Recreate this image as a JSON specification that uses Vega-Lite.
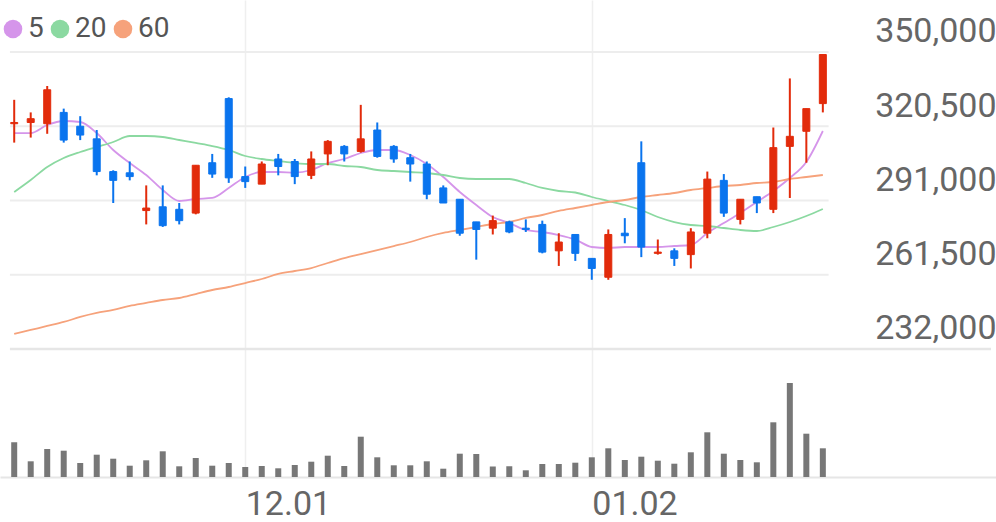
{
"$schema": "https://vega.github.io/schema/vega-lite/v6.json",
"width": 996, "height": 477,
"autosize": {"type": "none"},
"padding": {"left": 0, "top": 0, "right": 0, "bottom": 45},
"background": "white",
"config": {"view": {"stroke": null}, "font": "Roboto"},
"data": {"values": [
{"i":0,"d":"2022-11-11","o":321500,"h":331000,"l":314000,"c":322000,"v":69400,"5":317800,"20":294380,"60":237960,"dir":"up"},
{"i":1,"d":"2022-11-14","o":322000,"h":326000,"l":316000,"c":323500,"v":31400,"5":317800,"20":299140,"60":239550,"dir":"up"},
{"i":2,"d":"2022-11-15","o":321500,"h":336500,"l":317500,"c":335000,"v":56000,"5":321000,"20":304310,"60":241140,"dir":"up"},
{"i":3,"d":"2022-11-16","o":326000,"h":327500,"l":314000,"c":315000,"v":52600,"5":322590,"20":307890,"60":242730,"dir":"down"},
{"i":4,"d":"2022-11-17","o":320500,"h":324500,"l":315000,"c":317000,"v":28000,"5":322190,"20":310270,"60":244720,"dir":"down"},
{"i":5,"d":"2022-11-18","o":315500,"h":319000,"l":301000,"c":302500,"v":44600,"5":317800,"20":312250,"60":246310,"dir":"down"},
{"i":6,"d":"2022-11-21","o":302500,"h":303000,"l":290000,"c":299000,"v":36600,"5":311060,"20":314240,"60":247500,"dir":"down"},
{"i":7,"d":"2022-11-22","o":302000,"h":306500,"l":299000,"c":300500,"v":22600,"5":305900,"20":316620,"60":249090,"dir":"down"},
{"i":8,"d":"2022-11-23","o":287000,"h":297000,"l":281500,"c":288000,"v":33400,"5":301130,"20":316620,"60":250280,"dir":"up"},
{"i":9,"d":"2022-11-24","o":288500,"h":297000,"l":280500,"c":281000,"v":51400,"5":295170,"20":316230,"60":251470,"dir":"down"},
{"i":10,"d":"2022-11-25","o":287500,"h":290000,"l":281500,"c":283000,"v":21400,"5":290800,"20":315040,"60":252260,"dir":"down"},
{"i":11,"d":"2022-11-28","o":286000,"h":305000,"l":285500,"c":305000,"v":38000,"5":291600,"20":313850,"60":253850,"dir":"up"},
{"i":12,"d":"2022-11-29","o":306000,"h":309500,"l":300000,"c":301500,"v":22600,"5":292000,"20":312650,"60":255440,"dir":"down"},
{"i":13,"d":"2022-11-30","o":331500,"h":332000,"l":298000,"c":300000,"v":28000,"5":295970,"20":311060,"60":256630,"dir":"down"},
{"i":14,"d":"2022-12-01","o":300500,"h":304500,"l":296000,"c":298500,"v":20000,"5":300340,"20":308680,"60":258220,"dir":"down"},
{"i":15,"d":"2022-12-02","o":297500,"h":306500,"l":297500,"c":305500,"v":22000,"5":302320,"20":307490,"60":259810,"dir":"up"},
{"i":16,"d":"2022-12-05","o":307500,"h":309500,"l":301000,"c":304500,"v":17400,"5":302320,"20":306690,"60":261800,"dir":"down"},
{"i":17,"d":"2022-12-06","o":306500,"h":307500,"l":297500,"c":300500,"v":24000,"5":302100,"20":305900,"60":262990,"dir":"down"},
{"i":18,"d":"2022-12-07","o":301000,"h":310500,"l":299500,"c":307500,"v":30600,"5":303120,"20":305500,"60":264180,"dir":"up"},
{"i":19,"d":"2022-12-08","o":309500,"h":315000,"l":305000,"c":314500,"v":42600,"5":305900,"20":305500,"60":266170,"dir":"up"},
{"i":20,"d":"2022-12-09","o":312500,"h":313000,"l":306500,"c":309500,"v":22000,"5":307490,"20":304710,"60":268150,"dir":"down"},
{"i":21,"d":"2022-12-12","o":310500,"h":329000,"l":310000,"c":315500,"v":80600,"5":309870,"20":304310,"60":269740,"dir":"up"},
{"i":22,"d":"2022-12-13","o":319000,"h":322000,"l":308000,"c":308500,"v":39400,"5":311060,"20":303120,"60":271330,"dir":"down"},
{"i":23,"d":"2022-12-14","o":312500,"h":313000,"l":306000,"c":307500,"v":23400,"5":311060,"20":302720,"60":272920,"dir":"down"},
{"i":24,"d":"2022-12-15","o":308000,"h":309500,"l":298500,"c":305500,"v":23400,"5":309080,"20":302320,"60":274510,"dir":"down"},
{"i":25,"d":"2022-12-16","o":305500,"h":306500,"l":291500,"c":293500,"v":31400,"5":305500,"20":301920,"60":276500,"dir":"down"},
{"i":26,"d":"2022-12-19","o":296000,"h":297000,"l":290000,"c":290000,"v":16600,"5":300340,"20":301130,"60":278090,"dir":"down"},
{"i":27,"d":"2022-12-20","o":291500,"h":291500,"l":277000,"c":278000,"v":46600,"5":294380,"20":299940,"60":279280,"dir":"down"},
{"i":28,"d":"2022-12-21","o":282500,"h":282500,"l":267500,"c":279500,"v":46000,"5":289210,"20":299540,"60":280470,"dir":"down"},
{"i":29,"d":"2022-12-22","o":280000,"h":285000,"l":277500,"c":283000,"v":21000,"5":284440,"20":299540,"60":281660,"dir":"up"},
{"i":30,"d":"2022-12-23","o":282500,"h":283000,"l":278000,"c":278500,"v":21400,"5":282060,"20":299540,"60":282460,"dir":"down"},
{"i":31,"d":"2022-12-26","o":280000,"h":283500,"l":278500,"c":279500,"v":13400,"5":279280,"20":297950,"60":284050,"dir":"down"},
{"i":32,"d":"2022-12-27","o":281500,"h":283000,"l":270000,"c":270500,"v":26000,"5":278480,"20":295970,"60":285240,"dir":"down"},
{"i":33,"d":"2022-12-28","o":271000,"h":278000,"l":265000,"c":274500,"v":26000,"5":277290,"20":294780,"60":286830,"dir":"up"},
{"i":34,"d":"2022-12-29","o":277500,"h":277500,"l":267000,"c":270000,"v":28600,"5":275500,"20":294180,"60":288020,"dir":"down"},
{"i":35,"d":"2023-01-02","o":268000,"h":268000,"l":259500,"c":264000,"v":39400,"5":272520,"20":292390,"60":289210,"dir":"down"},
{"i":36,"d":"2023-01-03","o":260500,"h":279500,"l":259500,"c":277500,"v":57400,"5":272130,"20":290800,"60":290400,"dir":"up"},
{"i":37,"d":"2023-01-04","o":278000,"h":284000,"l":274000,"c":277000,"v":34000,"5":272520,"20":289210,"60":291200,"dir":"down"},
{"i":38,"d":"2023-01-05","o":306000,"h":314500,"l":268500,"c":272500,"v":40600,"5":272520,"20":287200,"60":292390,"dir":"down"},
{"i":39,"d":"2023-01-06","o":270000,"h":275500,"l":269500,"c":270500,"v":32600,"5":272520,"20":284440,"60":293180,"dir":"up"},
{"i":40,"d":"2023-01-09","o":271000,"h":272000,"l":265000,"c":268000,"v":26600,"5":272920,"20":282450,"60":293980,"dir":"down"},
{"i":41,"d":"2023-01-10","o":269500,"h":280000,"l":264000,"c":278500,"v":49400,"5":273320,"20":281260,"60":295170,"dir":"up"},
{"i":42,"d":"2023-01-11","o":278000,"h":302500,"l":276000,"c":299500,"v":89400,"5":278090,"20":280870,"60":295960,"dir":"up"},
{"i":43,"d":"2023-01-12","o":299000,"h":301500,"l":284500,"c":286000,"v":46600,"5":282060,"20":280070,"60":296760,"dir":"down"},
{"i":44,"d":"2023-01-13","o":283500,"h":291500,"l":281500,"c":291500,"v":34000,"5":286030,"20":279280,"60":297160,"dir":"up"},
{"i":45,"d":"2023-01-16","o":292500,"h":292500,"l":286000,"c":290000,"v":29400,"5":290400,"20":278880,"60":297950,"dir":"down"},
{"i":46,"d":"2023-01-17","o":287500,"h":320000,"l":286000,"c":312000,"v":109400,"5":294780,"20":280470,"60":298350,"dir":"up"},
{"i":47,"d":"2023-01-18","o":312500,"h":339500,"l":292000,"c":316500,"v":188000,"5":299940,"20":282450,"60":299540,"dir":"up"},
{"i":48,"d":"2023-01-19","o":318500,"h":327500,"l":306000,"c":327500,"v":86600,"5":306300,"20":284840,"60":300330,"dir":"up"},
{"i":49,"d":"2023-01-20","o":329500,"h":349000,"l":326000,"c":349000,"v":57400,"5":318610,"20":287620,"60":301130,"dir":"up"}
]},
"layer": [
  {"layer": [
    {"data": {"values": [{"level": 350000}, {"level": 320500}, {"level": 291000}, {"level": 261500}]},
     "mark": {"type": "rule", "color": "#ededed", "strokeWidth": 2},
     "encoding": {
       "x": {"datum": -0.26, "type": "quantitative", "title": null},
       "x2": {"datum": 49.35},
       "y": {"field": "level", "type": "quantitative", "title": null,
         "scale": {"domain": [181143, 370660], "nice": false, "zero": false},
         "axis": {"orient": "right", "values": [232000, 261500, 291000, 320500, 350000], "format": ",d",
           "labelAlign": "right", "labelBaseline": "alphabetic", "labelOffset": -10, "labelPadding": 0,
           "ticks": false, "domain": false, "grid": false, "labelFontSize": 34, "labelColor": "#666666",
           "labelFont": "Roboto", "title": null, "labelFlush": false, "labelOverlap": false}}
     }},
    {"data": {"values": [{"level": 232000}]},
     "mark": {"type": "rule", "color": "#e6e6e6", "strokeWidth": 2.5},
     "encoding": {
       "x": {"datum": -0.26, "type": "quantitative", "title": null},
       "x2": {"datum": 59.19},
       "y": {"field": "level", "type": "quantitative", "title": null}
     }},
    {"transform": [{"fold": ["5", "20", "60"], "as": ["ma", "price"]}],
     "mark": {"type": "line", "strokeWidth": 1.8, "interpolate": "monotone"},
     "encoding": {
       "x": {"field": "i", "type": "quantitative", "title": null},
       "y": {"field": "price", "type": "quantitative", "title": null},
       "color": {"field": "ma", "type": "nominal",
         "scale": {"domain": ["5", "20", "60"], "range": ["#d595ea", "#8bd9a1", "#f6a27b"]},
         "legend": {"orient": "none", "legendX": -1, "legendY": 15, "direction": "horizontal", "title": null,
           "symbolType": "circle", "symbolSize": 256, "symbolStrokeWidth": 0, "labelFontSize": 28,
           "labelColor": "#555555", "labelFont": "Roboto", "labelOffset": 1, "columnPadding": 2, "padding": 0,
           "symbolOpacity": 1,
           "encode": {"symbols": {"update": {"fill": {"scale": "color", "field": "value"}, "stroke": {"value": "transparent"}, "opacity": {"value": 1}, "size": {"value": 345}}}}}}
     }},
    {"mark": {"type": "rule", "strokeWidth": 2},
     "encoding": {
       "x": {"field": "i", "type": "quantitative", "title": null},
       "y": {"field": "l", "type": "quantitative", "title": null},
       "y2": {"field": "h"},
       "stroke": {"field": "dir", "type": "nominal", "scale": {"domain": ["up", "down"], "range": ["#e22b0b", "#0a74ee"]}, "legend": null}
     }},
    {"mark": {"type": "bar", "width": 7, "strokeWidth": 1},
     "encoding": {
       "x": {"field": "i", "type": "quantitative", "title": null},
       "y": {"field": "o", "type": "quantitative", "title": null},
       "y2": {"field": "c"},
       "fill": {"field": "dir", "type": "nominal", "scale": {"domain": ["up", "down"], "range": ["#e22b0b", "#0a74ee"]}, "legend": null},
       "stroke": {"field": "dir", "type": "nominal", "legend": null}
     }}
  ]},
  {"mark": {"type": "bar", "width": 6, "color": "#777777"},
   "encoding": {
     "x": {"field": "i", "type": "quantitative", "title": null,
       "scale": {"domain": [-0.558, 59.19], "nice": false, "zero": false},
       "axis": {"values": [14, 35], "labelExpr": "datum.value == 14 ? '12.01' : '01.02'",
         "labelAlign": "left", "labelBaseline": "alphabetic", "labelPadding": 37,
         "labelFontSize": 34, "labelColor": "#666666", "labelFont": "Roboto",
         "ticks": false, "domain": true, "domainColor": "#e6e6e6", "domainWidth": 2,
         "grid": true, "gridColor": "#efefef", "gridWidth": 1.5, "title": null,
         "labelFlush": false, "labelOverlap": false}},
     "y": {"field": "v", "type": "quantitative", "scale": {"domain": [0, 954000], "nice": false}, "axis": null}
   }}
],
"resolve": {"scale": {"y": "independent"}}
}
